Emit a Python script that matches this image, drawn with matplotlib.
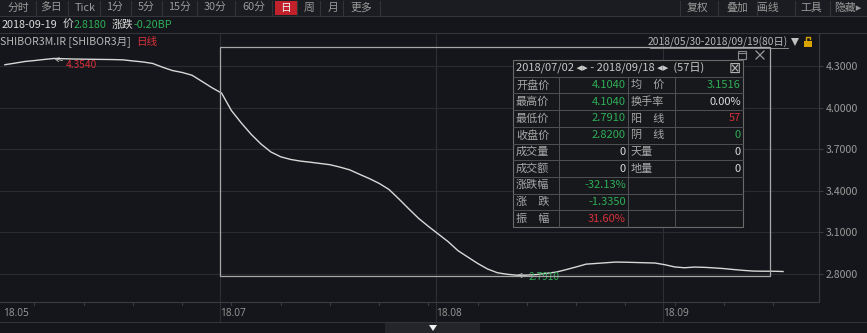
import matplotlib
matplotlib.use('Agg')
import matplotlib.pyplot as plt
from matplotlib.transforms import Affine2D, blended_transform_factory
from matplotlib.patches import Rectangle, Polygon
from matplotlib.lines import Line2D

plt.rcParams['font.family'] = ['Noto Sans CJK SC', 'DejaVu Sans']

# SHIBOR 3M daily fixing, 2018/05/30 - 2018/09/19 (80 days)
rates = [4.309, 4.320, 4.332, 4.339, 4.347, 4.354, 4.352, 4.350, 4.349, 4.348,
         4.347, 4.346, 4.344, 4.336, 4.329, 4.318, 4.291, 4.267, 4.253, 4.233,
         4.189, 4.144, 4.104, 3.978, 3.889, 3.807, 3.737, 3.680, 3.645, 3.626,
         3.614, 3.606, 3.597, 3.588, 3.571, 3.551, 3.519, 3.488, 3.453, 3.409,
         3.341, 3.270, 3.201, 3.143, 3.088, 3.033, 2.968, 2.922, 2.876, 2.836,
         2.809, 2.798, 2.791, 2.792, 2.796, 2.805, 2.814, 2.832, 2.851, 2.871,
         2.876, 2.881, 2.886, 2.885, 2.883, 2.881, 2.879, 2.867, 2.851, 2.845,
         2.850, 2.848, 2.844, 2.839, 2.832, 2.826, 2.821, 2.820, 2.820, 2.818]
month_idx = [0, 22, 44, 67]
month_labels = ['18.05', '18.07', '18.08', '18.09']
y_ticks = [2.8, 3.1, 3.4, 3.7, 4.0, 4.3]
hi_idx, lo_idx = 5, 52
sel_start, sel_end = 22, 78

toolbar = ['分时', '多日', 'Tick', '1分', '5分', '15分', '30分', '60分', '日', '周', '月', '更多']
toolbar_x = [18, 51, 85, 114, 146, 179, 215, 254, 286, 309, 333, 361]
toolbar_sep = [36, 68, 100, 131, 162, 197, 235, 272, 297, 320, 343, 380]
tools_right = ['复权', '叠加', '画线', '工具', '隐藏▸']
tools_right_x = [698, 737, 768, 811, 848]

left_labels = ['开盘价', '最高价', '最低价', '收盘价', '成交量', '成交额', '涨跌幅', '涨　跌', '振　幅']
left_values = ['4.1040', '4.1040', '2.7910', '2.8200', '0', '0', '-32.13%', '-1.3350', '31.60%']
left_kind = ['g', 'g', 'g', 'g', 'w', 'w', 'g', 'g', 'r']
right_labels = ['均　价', '换手率', '阳　线', '阴　线', '天量', '地量', '', '', '']
right_values = ['3.1516', '0.00%', '57', '0', '0', '0', '', '', '']
right_kind = ['g', 'w', 'r', 'g', 'w', 'w', 'w', 'w', 'w']

BG = '#15161b'
GRID = '#2a2b31'
TXT = '#9a9a9a'
GREEN = '#2fae57'
RED = '#d8303a'
WHITE = '#dcdcdc'
kind_col = {'g': GREEN, 'r': RED, 'w': WHITE}

W, H = 867, 333
AX_BOT = 302
fig = plt.figure(figsize=(W / 100, H / 100), dpi=100, facecolor=BG)
pix = Affine2D().scale(1 / W, -1 / H).translate(0, 1) + fig.transFigure

# main price axes (2.8 at y=274px, 4.3 at y=66px)
ax = fig.add_axes([0, 1 - AX_BOT / H, 819 / W, (AX_BOT - 33) / H])
ax.set_facecolor(BG)
ax.plot(range(len(rates)), rates, color='#d8d8d8', lw=1.0, zorder=3)
ax.set_xlim(-0.5, 82.65)
ax.set_ylim(2.8 - (AX_BOT - 274) / 138.7, 4.5376)
for v in y_ticks:
    ax.axhline(v, color=GRID, lw=0.8, zorder=1)
ax.yaxis.tick_right()
ax.set_yticks(y_ticks)
ax.set_yticklabels(['%.4f' % v for v in y_ticks], color=TXT, fontsize=7.6)
ax.tick_params(axis='y', length=3, color='#3a3b40', pad=2)
ax.set_xticks([])
for s in ['top', 'left']:
    ax.spines[s].set_visible(False)
for s in ['right', 'bottom']:
    ax.spines[s].set_color('#3a3b40')
    ax.spines[s].set_linewidth(0.8)

# month grid + date labels
bx = blended_transform_factory(ax.transData, pix)
for i, lab in zip(month_idx, month_labels):
    if i > 0:
        ax.add_line(Line2D([i - 0.2, i - 0.2], [33, 322], transform=bx, color='#2e2f35',
                           lw=0.8, clip_on=False, zorder=1))
    ax.text(i - 0.2, 313, lab, transform=bx, color=TXT, fontsize=7.3, ha='left', va='center',
            family=['Open Sans', 'DejaVu Sans'])
for i in range(3, 80, 5):
    ax.add_line(Line2D([i, i], [AX_BOT, AX_BOT + 3], transform=bx, color='#3a3b40', lw=0.8,
                       clip_on=False))

# hi / lo markers
ax.annotate('4.3540', xy=(hi_idx, rates[hi_idx]), xytext=(8, -5), textcoords='offset points',
            color=RED, fontsize=7.3, va='center', ha='left',
            arrowprops=dict(arrowstyle='->', color='#c8c8c8', lw=0.6, shrinkA=0, shrinkB=0))
ax.annotate('2.7910', xy=(lo_idx, rates[lo_idx]), xytext=(8, -1), textcoords='offset points',
            color=GREEN, fontsize=7.3, va='center', ha='left',
            arrowprops=dict(arrowstyle='->', color='#c8c8c8', lw=0.6, shrinkA=0, shrinkB=0))

# selection box
ax.add_patch(Rectangle((sel_start - 0.2, 47), sel_end - sel_start - 0.1, 229, transform=bx,
                       fill=False, ec='#a8a8a8', lw=0.9, clip_on=False, zorder=4))
fig.add_artist(Rectangle((738, 51), 8, 8, transform=pix, fill=False, ec='#8a8a8a', lw=0.8))
fig.add_artist(Line2D([738, 746], [53, 53], transform=pix, color='#8a8a8a', lw=0.8))
fig.add_artist(Line2D([756, 764], [51, 59], transform=pix, color='#9a9a9a', lw=0.9))
fig.add_artist(Line2D([756, 764], [59, 51], transform=pix, color='#9a9a9a', lw=0.9))

# interval stats table
tx0, tx1 = 513, 743
col_x = [513, 559, 628, 675, 743]
ty0 = 60
row_h = 16.7
fs = 8
fig.add_artist(Rectangle((tx0, ty0), tx1 - tx0, row_h * 10, transform=pix,
                         fc='#17181c', ec='#6a6a6a', lw=0.8, zorder=5))
for r in range(1, 10):
    y = ty0 + r * row_h
    fig.add_artist(Line2D([tx0, tx1], [y, y], transform=pix, color='#505055', lw=0.7, zorder=6))
for cx in col_x[1:4]:
    fig.add_artist(Line2D([cx, cx], [ty0 + row_h, ty0 + row_h * 10], transform=pix,
                          color='#505055', lw=0.7, zorder=6))
fig.text(516, ty0 + row_h / 2, '2018/07/02 ◂▸ - 2018/09/18 ◂▸  (57日)', transform=pix,
         color='#c8c8c8', fontsize=fs, va='center', ha='left', zorder=7)
fig.text(741, ty0 + row_h / 2, '⊠', transform=pix, color='#b0b0b0', fontsize=10.5,
         va='center', ha='right', zorder=7, family=['DejaVu Sans'])
for r in range(9):
    yc = ty0 + row_h * (r + 1.5)
    fig.text(col_x[0] + 3, yc, left_labels[r], transform=pix, color='#a8a8a8',
             fontsize=fs, va='center', ha='left', zorder=7)
    fig.text(col_x[2] - 2, yc, left_values[r], transform=pix, color=kind_col[left_kind[r]],
             fontsize=fs, va='center', ha='right', zorder=7)
    fig.text(col_x[2] + 3, yc, right_labels[r], transform=pix, color='#a8a8a8',
             fontsize=fs, va='center', ha='left', zorder=7)
    fig.text(col_x[4] - 2, yc, right_values[r], transform=pix, color=kind_col[right_kind[r]],
             fontsize=fs, va='center', ha='right', zorder=7)

# toolbar
fig.add_artist(Rectangle((0, 0), W, 16, transform=pix, fc='#1b1c21', ec='none'))
fig.add_artist(Line2D([0, W], [16, 16], transform=pix, color='#33343a', lw=0.8))
fig.add_artist(Line2D([0, W], [33, 33], transform=pix, color='#33343a', lw=0.8))
fig.add_artist(Rectangle((275, 1), 22, 14, transform=pix, fc='#c0212b', ec='none'))
for lab, x in zip(toolbar, toolbar_x):
    fig.text(x, 8, lab, transform=pix, color='#f0f0f0' if lab == '日' else TXT,
             fontsize=7.8, ha='center', va='center')
for x in toolbar_sep:
    fig.add_artist(Line2D([x, x], [1, 15], transform=pix, color='#33343a', lw=0.8))
for x in [680, 718, 757, 795, 830]:
    fig.add_artist(Line2D([x, x], [1, 15], transform=pix, color='#33343a', lw=0.8))
for lab, x in zip(tools_right, tools_right_x):
    fig.text(x, 8, lab, transform=pix, color=TXT, fontsize=7.8, ha='center', va='center')

# info rows
fig.text(2, 25, '2018-09-19', transform=pix, color=WHITE, fontsize=7.8, va='center')
fig.text(63, 25, '价', transform=pix, color=WHITE, fontsize=7.8, va='center')
fig.text(74, 25, '2.8180', transform=pix, color=GREEN, fontsize=7.8, va='center')
fig.text(112, 25, '涨跌', transform=pix, color=WHITE, fontsize=7.8, va='center')
fig.text(134, 25, '-0.20BP', transform=pix, color=GREEN, fontsize=7.8, va='center')
fig.text(0, 42, 'SHIBOR3M.IR [SHIBOR3月]', transform=pix, color='#b8b8b8', fontsize=7.6, va='center')
fig.text(136, 42, '日线', transform=pix, color=RED, fontsize=7.6, va='center')
fig.text(788, 42, '2018/05/30-2018/09/19(80日)', transform=pix, color='#b8b8b8',
         fontsize=7.4, va='center', ha='right')
fig.add_artist(Line2D([650, 788], [48, 48], transform=pix, color='#a0a0a0', lw=0.6))
fig.add_artist(Polygon([[791, 38], [799, 38], [795, 46]], closed=True, transform=pix,
                       fc='#c0c0c0', ec='none'))
fig.add_artist(Rectangle((804, 41), 8, 6, transform=pix, fc='#d9a400', ec='none'))
fig.add_artist(Line2D([806, 806, 810, 810], [41, 37, 37, 39], transform=pix,
                      color='#d9a400', lw=1))

# bottom strip
fig.add_artist(Line2D([0, W], [322, 322], transform=pix, color='#33343a', lw=0.8))
fig.add_artist(Rectangle((385, 323), 95, 10, transform=pix, fc='#24252a', ec='none'))
fig.add_artist(Polygon([[429, 325], [437, 325], [433, 331]], closed=True, transform=pix,
                       fc='#f0f0f0', ec='none'))

fig.savefig('out.png', dpi=100, facecolor=BG)
